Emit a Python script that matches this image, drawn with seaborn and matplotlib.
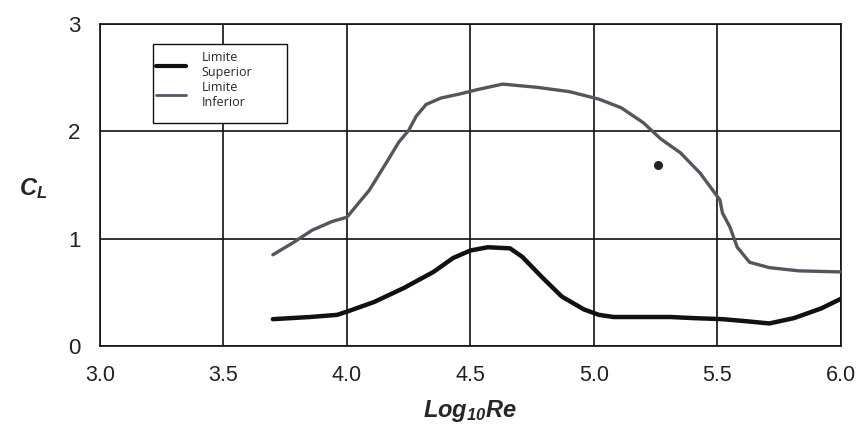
import matplotlib
matplotlib.use("Agg")
import matplotlib.pyplot as plt
import seaborn as sns
import pandas as pd
from matplotlib.lines import Line2D
from matplotlib.patches import Rectangle

# ---- data ----
sup_x = [3.70, 3.85, 3.96, 4.00, 4.11, 4.23, 4.35, 4.43, 4.50, 4.57, 4.66, 4.71, 4.79, 4.87,
         4.96, 5.02, 5.08, 5.20, 5.31, 5.40, 5.52, 5.62, 5.71, 5.81, 5.92, 6.00]
sup_y = [0.25, 0.27, 0.29, 0.32, 0.41, 0.54, 0.69, 0.82, 0.89, 0.92, 0.91, 0.83, 0.64, 0.46,
         0.34, 0.29, 0.27, 0.27, 0.27, 0.26, 0.25, 0.23, 0.21, 0.26, 0.35, 0.44]

inf_x = [3.70, 3.78, 3.86, 3.94, 4.00, 4.05, 4.09, 4.16, 4.21, 4.25, 4.28, 4.32, 4.38, 4.46,
         4.53, 4.63, 4.77, 4.90, 5.02, 5.11, 5.20, 5.27, 5.35, 5.43, 5.51, 5.52, 5.55, 5.58,
         5.63, 5.71, 5.83, 6.00]
inf_y = [0.85, 0.96, 1.08, 1.16, 1.20, 1.34, 1.45, 1.71, 1.90, 2.01, 2.14, 2.25, 2.31, 2.35,
         2.39, 2.44, 2.41, 2.37, 2.30, 2.22, 2.08, 1.93, 1.80, 1.61, 1.36, 1.24, 1.11, 0.92,
         0.78, 0.73, 0.70, 0.69]

speck_x = [5.26]
speck_y = [1.69]

series_names = ["Limite\nSuperior", "Limite\nInferior"]
x_ticks = [3.0, 3.5, 4.0, 4.5, 5.0, 5.5, 6.0]
x_tick_labels = ["3.0", "3.5", "4.0", "4.5", "5.0", "5.5", "6.0"]
y_ticks = [0, 1, 2, 3]
y_tick_labels = ["0", "1", "2", "3"]

df = pd.concat([
    pd.DataFrame({"x": sup_x, "y": sup_y, "serie": series_names[0]}),
    pd.DataFrame({"x": inf_x, "y": inf_y, "serie": series_names[1]}),
], ignore_index=True)

sns.set_theme(style="white")
plt.rcParams["font.family"] = ["Liberation Sans", "DejaVu Sans"]
plt.rcParams["mathtext.fontset"] = "custom"
plt.rcParams["mathtext.rm"] = "Liberation Sans:italic:bold"
plt.rcParams["mathtext.it"] = "Liberation Sans:italic:bold"
plt.rcParams["mathtext.bf"] = "Liberation Sans:italic:bold"

fig = plt.figure(figsize=(8.67, 4.48), dpi=100)
ax = fig.add_axes([0.1153, 0.2277, 0.8547, 0.7187])

palette = {series_names[0]: "#111111", series_names[1]: "#55555f"}
sizes = {series_names[0]: 3.2, series_names[1]: 2.4}
sns.lineplot(data=df, x="x", y="y", hue="serie", palette=palette, size="serie",
             sizes=sizes, sort=False, estimator=None, legend=False, ax=ax, zorder=3)
ax.scatter(speck_x, speck_y, s=30, color="#222222", marker="o", zorder=3)

ax.set_xlim(3.0, 6.0)
ax.set_ylim(0, 3)
ax.set_xticks(x_ticks)
ax.set_xticklabels(x_tick_labels, fontsize=15.5)
ax.set_yticks(y_ticks)
ax.set_yticklabels(y_tick_labels, fontsize=16)
ax.grid(True, color="#111111", linewidth=1.2)
ax.set_axisbelow(True)
for s in ax.spines.values():
    s.set_color("#111111")
    s.set_linewidth(1.2)
ax.tick_params(axis="both", direction="out", length=6, width=1.2, color="#111111",
               labelcolor="#222222", pad=8)

ax.set_xlabel(r"$\mathrm{Log}_{\mathrm{10}}\mathrm{Re}$", fontsize=17, labelpad=8)
ax.set_ylabel(r"$\mathrm{C}_{\mathrm{L}}$", fontsize=17, rotation=0, labelpad=22)
ax.yaxis.set_label_coords(-0.09, 0.45)

# legend frame drawn as a box, legend entries inside
ax.add_patch(Rectangle((0.0715, 0.6925), 0.181, 0.2455, transform=ax.transAxes,
                       facecolor="white", edgecolor="#111111", linewidth=1.0, zorder=4))
handles = [Line2D([0], [0], color="#111111", lw=3.0),
           Line2D([0], [0], color="#55556a", lw=2.0)]
leg = ax.legend(handles, series_names, loc="upper left", bbox_to_anchor=(0.076, 0.915),
                frameon=False, prop={"family": ["Open Sans", "DejaVu Sans"], "size": 9},
                handlelength=2.4, handletextpad=1.2, labelspacing=0.1,
                borderpad=0, borderaxespad=0)
leg.set_zorder(5)

fig.savefig("out.png", dpi=100)
